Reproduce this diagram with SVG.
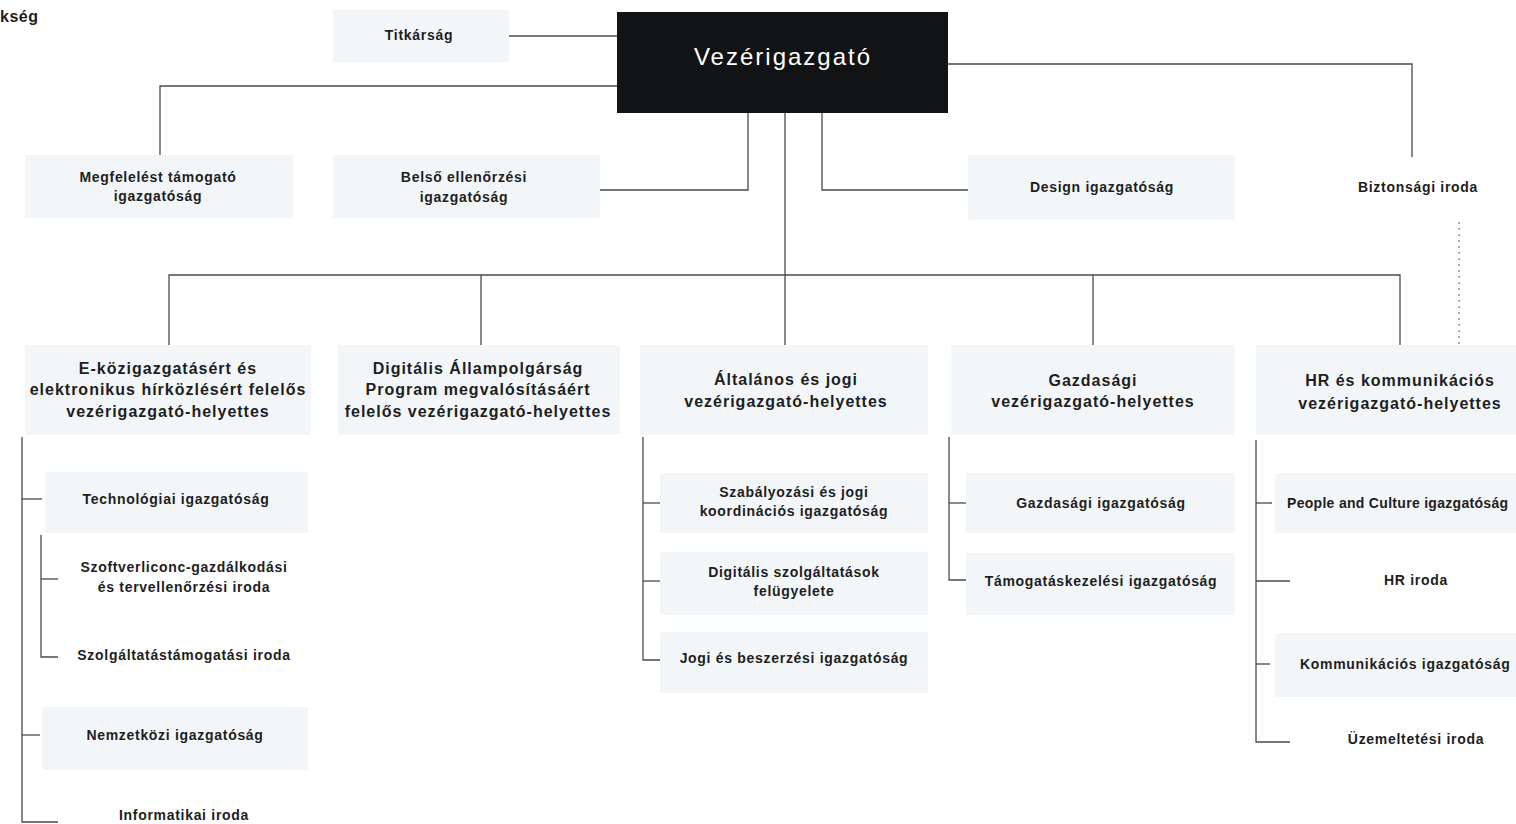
<svg xmlns="http://www.w3.org/2000/svg" width="1516" height="824" viewBox="0 0 1516 824">
<style>
.bg{fill:#ffffff}
.box{fill:#f2f6f9}
.ceo{fill:#121314}
.t{font-family:"Liberation Sans",Arial,sans-serif;font-weight:bold;font-size:14px;fill:#1e1e1e;letter-spacing:0.7px;text-anchor:middle}
.t2{font-family:"Liberation Sans",Arial,sans-serif;font-weight:bold;font-size:16px;fill:#1e1e1e;letter-spacing:1px;text-anchor:middle}
.tc{font-family:"Liberation Sans",Arial,sans-serif;font-size:24px;fill:#ffffff;letter-spacing:2px;text-anchor:middle}
.l{fill:none;stroke:#4a4a4a;stroke-width:1.3}
.d{fill:none;stroke:#777;stroke-width:1.2;stroke-dasharray:2 4}
</style>
<rect class="bg" x="0" y="0" width="1516" height="824"/>
<g id="connectors">
<path class="l" d="M509 36H617"/>
<path class="l" d="M617 86H160V155"/>
<path class="l" d="M948 64H1412V157"/>
<path class="l" d="M748 113V190H600"/>
<path class="l" d="M822 113V190H968"/>
<path class="l" d="M785 113V275"/>
<path class="l" d="M169 345V275H1400V345"/>
<path class="l" d="M481 275V345"/>
<path class="l" d="M785 275V345"/>
<path class="l" d="M1093 275V345"/>
<path class="d" d="M1459 222V348"/>
<path class="l" d="M22 437V822H58"/>
<path class="l" d="M22 499H42"/>
<path class="l" d="M22 735H40"/>
<path class="l" d="M41 535V657H58"/>
<path class="l" d="M41 579H58"/>
<path class="l" d="M643 437V660H660"/>
<path class="l" d="M643 503H660"/>
<path class="l" d="M643 581H660"/>
<path class="l" d="M949 437V580H966"/>
<path class="l" d="M949 503H966"/>
<path class="l" d="M1256 440V742H1290"/>
<path class="l" d="M1256 503H1272"/>
<path class="l" d="M1256 581H1290"/>
<path class="l" d="M1256 664H1270"/>
</g>
<g id="top-left"><text class="t" x="0" y="22" style="text-anchor:start;font-size:16px;letter-spacing:0.5px">kség</text></g>
<g id="ceo"><rect class="ceo" x="617" y="12" width="331" height="101"/><text class="tc" x="783" y="65">Vezérigazgató</text></g>
<g id="titkarsag"><rect class="box" x="333" y="10" width="176" height="52"/><text class="t" x="419" y="40">Titkárság</text></g>
<g id="megfeleles"><rect class="box" x="25" y="155" width="268" height="63"/><text class="t" x="158" y="182">Megfelelést támogató</text><text class="t" x="158" y="201">igazgatóság</text></g>
<g id="belso"><rect class="box" x="333" y="155" width="267" height="63"/><text class="t" x="464" y="182">Belső ellenőrzési</text><text class="t" x="464" y="202">igazgatóság</text></g>
<g id="design"><rect class="box" x="968" y="155" width="267" height="65"/><text class="t" x="1102" y="192">Design igazgatóság</text></g>
<g id="biztonsagi"><text class="t" x="1418" y="192">Biztonsági iroda</text></g>
<g id="ekozig"><rect class="box" x="25" y="345" width="286" height="90"/><text class="t2" x="168" y="374">E-közigazgatásért és</text><text class="t2" x="168" y="395">elektronikus hírközlésért felelős</text><text class="t2" x="168" y="417">vezérigazgató-helyettes</text></g>
<g id="digitalis"><rect class="box" x="338" y="345" width="282" height="90"/><text class="t2" x="478" y="374">Digitális Állampolgárság</text><text class="t2" x="478" y="395">Program megvalósításáért</text><text class="t2" x="478" y="417">felelős vezérigazgató-helyettes</text></g>
<g id="altalanos"><rect class="box" x="640" y="345" width="288" height="90"/><text class="t2" x="786" y="385">Általános és jogi</text><text class="t2" x="786" y="407">vezérigazgató-helyettes</text></g>
<g id="gazdasagi"><rect class="box" x="951" y="345" width="284" height="90"/><text class="t2" x="1093" y="386">Gazdasági</text><text class="t2" x="1093" y="407">vezérigazgató-helyettes</text></g>
<g id="hr"><rect class="box" x="1256" y="345" width="260" height="90"/><text class="t2" x="1400" y="386">HR és kommunikációs</text><text class="t2" x="1400" y="409">vezérigazgató-helyettes</text></g>
<g id="technologiai"><rect class="box" x="45" y="472" width="263" height="61"/><text class="t" x="176" y="504">Technológiai igazgatóság</text></g>
<g id="szoftver"><text class="t" x="184" y="572">Szoftverliconc-gazdálkodási</text><text class="t" x="184" y="592">és tervellenőrzési iroda</text></g>
<g id="szolgaltatas"><text class="t" x="184" y="660">Szolgáltatástámogatási iroda</text></g>
<g id="nemzetkozi"><rect class="box" x="42" y="707" width="266" height="63"/><text class="t" x="175" y="740">Nemzetközi igazgatóság</text></g>
<g id="informatikai"><text class="t" x="184" y="820">Informatikai iroda</text></g>
<g id="szabalyozasi"><rect class="box" x="660" y="473" width="268" height="60"/><text class="t" x="794" y="497">Szabályozási és jogi</text><text class="t" x="794" y="516">koordinációs igazgatóság</text></g>
<g id="digszolg"><rect class="box" x="660" y="552" width="268" height="63"/><text class="t" x="794" y="577">Digitális szolgáltatások</text><text class="t" x="794" y="596">felügyelete</text></g>
<g id="jogi"><rect class="box" x="660" y="632" width="268" height="61"/><text class="t" x="794" y="663">Jogi és beszerzési igazgatóság</text></g>
<g id="gazd-ig"><rect class="box" x="966" y="473" width="269" height="60"/><text class="t" x="1101" y="508">Gazdasági igazgatóság</text></g>
<g id="tamogatas"><rect class="box" x="966" y="553" width="269" height="62"/><text class="t" x="1101" y="586">Támogatáskezelési igazgatóság</text></g>
<g id="people"><rect class="box" x="1275" y="473" width="241" height="60"/><text class="t" x="1287" y="508" style="text-anchor:start;letter-spacing:0.3px">People and Culture igazgatóság</text></g>
<g id="hr-iroda"><text class="t" x="1416" y="585">HR iroda</text></g>
<g id="kommunikacios"><rect class="box" x="1275" y="633" width="241" height="64"/><text class="t" x="1300" y="669" style="text-anchor:start">Kommunikációs igazgatóság</text></g>
<g id="uzemeltetesi"><text class="t" x="1416" y="744">Üzemeltetési iroda</text></g>
</svg>
